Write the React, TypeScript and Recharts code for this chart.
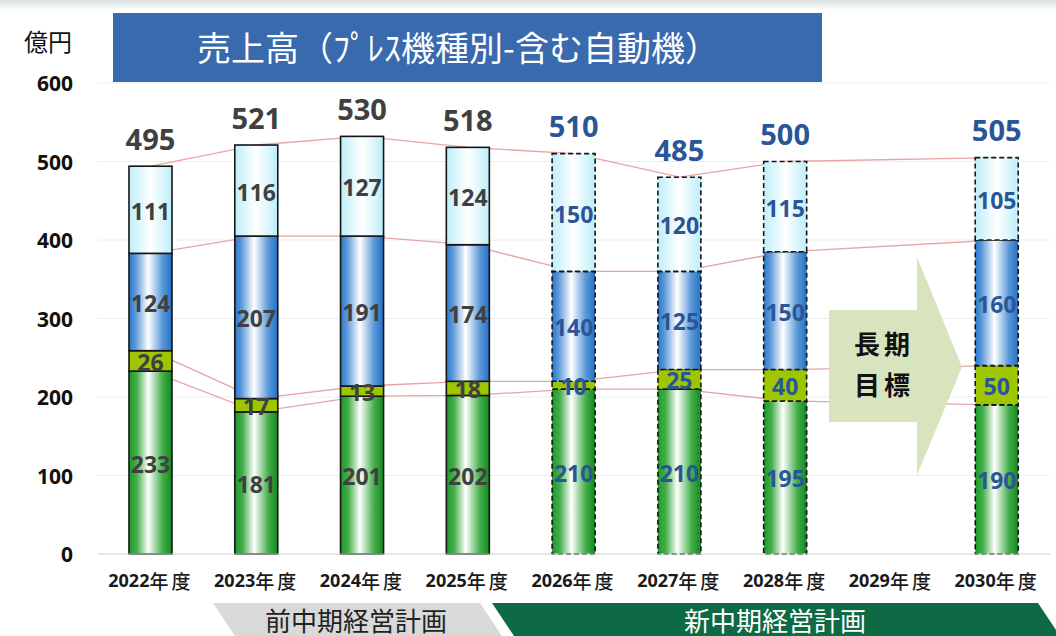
import React from "react";
import {
    ComposedChart,
    Bar,
    Line,
    XAxis,
    YAxis,
    CartesianGrid,
    LabelList
} from "recharts";

// fiscal years on the x axis
const years = [
    "2022年度", "2023年度", "2024年度", "2025年度", "2026年度",
    "2027年度", "2028年度", "2029年度", "2030年度"
];

// stacked segments, bottom to top (億円)
const greenVals = [233, 181, 201, 202, 210, 210, 195, null, 190];
const limeVals = [26, 17, 13, 18, 10, 25, 40, null, 50];
const blueVals = [124, 207, 191, 174, 140, 125, 150, null, 160];
const cyanVals = [111, 116, 127, 124, 150, 120, 115, null, 105];

// total printed above each bar
const totals = [495, 521, 530, 518, 510, 485, 500, null, 505];

// plan years get dashed outlines and blue labels
const planned = [false, false, false, false, true, true, true, true, true];

const yTicks = [0, 100, 200, 300, 400, 500, 600];

const rows = years.map((year, i) => {
    const g = greenVals[i];
    const l = limeVals[i];
    const b = blueVals[i];
    const c = cyanVals[i];
    const has = g != null;
    return {
        year,
        g,
        l,
        b,
        c,
        total: totals[i],
        planned: planned[i],
        lv1: has ? g : null,
        lv2: has ? g + l : null,
        lv3: has ? g + l + b : null,
        lv4: has ? g + l + b + c : null
    };
});

const NUM_FONT = "'Noto Sans', 'DejaVu Sans', sans-serif";
const JP_FONT = "'Noto Sans CJK JP', 'Noto Sans', sans-serif";
const GRAY_TXT = "#404040";
const BLUE_TXT = "#2a5597";
const LINK = "#e8a4a4";

const makeShape = (fill: string) => (props: any) => {
    const { x, y, width, height, payload } = props;
    if (!height || height <= 0) return <g />;
    const dashed = payload && payload.planned;
    return (
        <rect
            x={x}
            y={y}
            width={width}
            height={height}
            fill={fill}
            stroke="#151515"
            strokeWidth={1.6}
            strokeDasharray={dashed ? "5 3" : undefined}
        />
    );
};

const box = (props: any) => {
    const vb = props.viewBox || props;
    return { x: vb.x, y: vb.y, width: vb.width, height: vb.height };
};

const segLabel = (props: any) => {
    const { value, index } = props;
    if (value == null) return null;
    const { x, y, width, height } = box(props);
    return (
        <text
            x={x + width / 2}
            y={y + height / 2 + 1}
            textAnchor="middle"
            dominantBaseline="central"
            fontFamily={NUM_FONT}
            fontWeight={700}
            fontSize={23}
            fill={planned[index] ? BLUE_TXT : GRAY_TXT}
        >
            {value}
        </text>
    );
};

const totalLabel = (props: any) => {
    const { value, index } = props;
    if (value == null) return null;
    const { x, y, width } = box(props);
    return (
        <text
            x={x + width / 2}
            y={y - 28}
            textAnchor="middle"
            dominantBaseline="central"
            fontFamily={NUM_FONT}
            fontWeight={700}
            fontSize={29}
            fill={planned[index] ? BLUE_TXT : GRAY_TXT}
        >
            {value}
        </text>
    );
};

const YTick = (props: any) => {
    const { y, payload } = props;
    return (
        <text
            x={73}
            y={y}
            textAnchor="end"
            dominantBaseline="central"
            fontFamily={NUM_FONT}
            fontWeight={700}
            fontSize={21}
            fill="#111"
        >
            {payload.value}
        </text>
    );
};

const XTick = (props: any) => {
    const { x, y, payload } = props;
    const label: string = payload.value;
    return (
        <text
            x={x}
            y={y + 18}
            textAnchor="middle"
            dominantBaseline="central"
            fill="#1a1a1a"
            fontFamily={JP_FONT}
        >
            <tspan fontFamily={NUM_FONT} fontWeight={700} fontSize={18}>
                {label.slice(0, 4)}
            </tspan>
            <tspan fontSize={19} fontWeight={500} letterSpacing={3}>
                {label.slice(4)}
            </tspan>
        </text>
    );
};

const App = () => {
    return (
        <div style={{ position: "absolute", left: 0, top: 0, width: 1056, height: 636, background: "#fff" }}>
            <ComposedChart
                width={1056}
                height={636}
                data={rows}
                margin={{ top: 83, right: 6, left: 0, bottom: 0 }}
                barSize={43}
            >
                <defs>
                    <linearGradient id="gGreen" x1="0" y1="0" x2="1" y2="0">
                        <stop offset="0%" stopColor="#1a9a2a" />
                        <stop offset="18%" stopColor="#45ae4a" />
                        <stop offset="45%" stopColor="#ffffff" />
                        <stop offset="78%" stopColor="#45ae4a" />
                        <stop offset="100%" stopColor="#12891f" />
                    </linearGradient>
                    <linearGradient id="gBlue" x1="0" y1="0" x2="1" y2="0">
                        <stop offset="0%" stopColor="#2a78cc" />
                        <stop offset="15%" stopColor="#5b98d8" />
                        <stop offset="45%" stopColor="#ffffff" />
                        <stop offset="78%" stopColor="#5b98d8" />
                        <stop offset="100%" stopColor="#2370c6" />
                    </linearGradient>
                    <linearGradient id="gCyan" x1="0" y1="0" x2="1" y2="0">
                        <stop offset="0%" stopColor="#bdeef9" />
                        <stop offset="50%" stopColor="#ffffff" />
                        <stop offset="100%" stopColor="#bdeef9" />
                    </linearGradient>
                </defs>
                <CartesianGrid vertical={false} stroke="#eeeeee" />
                <XAxis
                    dataKey="year"
                    height={82}
                    tickLine={false}
                    axisLine={{ stroke: "#d6d6d6" }}
                    tick={<XTick />}
                    interval={0}
                />
                <YAxis
                    width={98}
                    domain={[0, 600]}
                    ticks={yTicks}
                    axisLine={false}
                    tickLine={false}
                    tick={<YTick />}
                />
                {/* connector lines between the segment tops, under the bars */}
                <Line dataKey="lv1" zIndex={-50} stroke={LINK} strokeWidth={1.3} dot={false} activeDot={false} connectNulls isAnimationActive={false} />
                <Line dataKey="lv2" zIndex={-50} stroke={LINK} strokeWidth={1.3} dot={false} activeDot={false} connectNulls isAnimationActive={false} />
                <Line dataKey="lv3" zIndex={-50} stroke={LINK} strokeWidth={1.3} dot={false} activeDot={false} connectNulls isAnimationActive={false} />
                <Line dataKey="lv4" zIndex={-50} stroke={LINK} strokeWidth={1.3} dot={false} activeDot={false} connectNulls isAnimationActive={false} />

                <Bar dataKey="g" stackId="s" shape={makeShape("url(#gGreen)")} isAnimationActive={false}>
                    <LabelList dataKey="g" content={segLabel} />
                </Bar>
                <Bar dataKey="l" stackId="s" shape={makeShape("#9dc600")} isAnimationActive={false}>
                    <LabelList dataKey="l" content={segLabel} />
                </Bar>
                <Bar dataKey="b" stackId="s" shape={makeShape("url(#gBlue)")} isAnimationActive={false}>
                    <LabelList dataKey="b" content={segLabel} />
                </Bar>
                <Bar dataKey="c" stackId="s" shape={makeShape("url(#gCyan)")} isAnimationActive={false}>
                    <LabelList dataKey="c" content={segLabel} />
                    <LabelList dataKey="total" content={totalLabel} />
                </Bar>
            </ComposedChart>

            {/* title, unit, long-term arrow and plan banners */}
            <svg
                width={1056}
                height={636}
                style={{ position: "absolute", left: 0, top: 0, pointerEvents: "none" }}
            >
                <defs>
                    <linearGradient id="topFade" x1="0" y1="0" x2="0" y2="1">
                        <stop offset="0%" stopColor="#d9dfdf" />
                        <stop offset="100%" stopColor="#ffffff" />
                    </linearGradient>
                </defs>
                <rect x={0} y={0} width={1056} height={10} fill="url(#topFade)" />
                <text x={48} y={40} textAnchor="middle" dominantBaseline="central" fontFamily={JP_FONT} fontSize={24} fill="#111">
                    億円
                </text>
                <rect x={113} y={13} width={709} height={69} fill="#3a6aae" />
                <text x={458} y={46} textAnchor="middle" dominantBaseline="central" fontFamily={JP_FONT} fontSize={34} fill="#ffffff">
                    売上高（ﾌﾟﾚｽ機種別-含む自動機）
                </text>

                <polygon points="829,310 917,310 917,257 962,367 917,475 917,422 829,422" fill="#d7e4bd" />
                <text x={884} y={342} textAnchor="middle" dominantBaseline="central" fontFamily={JP_FONT} fontWeight={700} fontSize={26} letterSpacing={4} fill="#111">
                    長期
                </text>
                <text x={884} y={383} textAnchor="middle" dominantBaseline="central" fontFamily={JP_FONT} fontWeight={700} fontSize={26} letterSpacing={4} fill="#111">
                    目標
                </text>

                <polygon points="213,603 480,603 502,636 480,669 213,669 235,636" fill="#d9d9d9" />
                <text x={356} y={619} textAnchor="middle" dominantBaseline="central" fontFamily={JP_FONT} fontSize={26} fill="#222">
                    前中期経営計画
                </text>
                <polygon points="492,603 1038,603 1060,636 1038,669 492,669 514,636" fill="#0e6a44" />
                <text x={775} y={619} textAnchor="middle" dominantBaseline="central" fontFamily={JP_FONT} fontSize={26} fill="#ffffff">
                    新中期経営計画
                </text>
            </svg>
        </div>
    );
};

export default App;
